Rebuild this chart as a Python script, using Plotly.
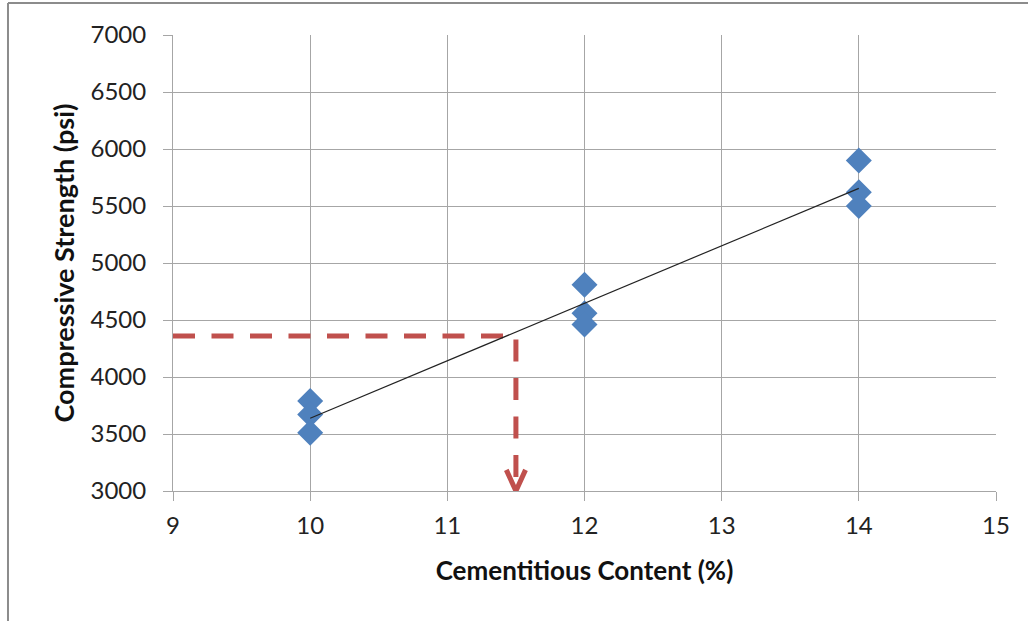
import numpy as np
import plotly.graph_objects as go

# ---- data ----
cement_content = [10, 10, 10, 12, 12, 12, 14, 14, 14]
compressive_strength = [3790, 3670, 3510, 4810, 4560, 4460, 5900, 5620, 5500]
x_ticks = [9, 10, 11, 12, 13, 14, 15]
y_ticks = [3000, 3500, 4000, 4500, 5000, 5500, 6000, 6500, 7000]
guide_x = [9, 11.5, 11.5]
guide_y = [4360, 4360, 3120]
arrow_x = [11.43, 11.5, 11.57]
arrow_y = [3185, 3000, 3185]

# linear trend from data
slope, intercept = np.polyfit(cement_content, compressive_strength, 1)
trend_x = [min(cement_content), max(cement_content)]
trend_y = [slope * v + intercept for v in trend_x]

fig = go.Figure()

fig.add_trace(go.Scatter(
    x=guide_x, y=guide_y, mode="lines",
    line=dict(color="#C0504D", width=5, dash="22px,16.5px"),
    hoverinfo="skip", showlegend=False))
fig.add_trace(go.Scatter(
    x=arrow_x, y=arrow_y, mode="lines",
    line=dict(color="#C0504D", width=5),
    hoverinfo="skip", showlegend=False))
fig.add_trace(go.Scatter(
    x=cement_content, y=compressive_strength, mode="markers",
    marker=dict(symbol="diamond", size=20, color="#4F81BD"),
    showlegend=False))
fig.add_trace(go.Scatter(
    x=trend_x, y=trend_y, mode="lines",
    line=dict(color="#222222", width=1.2),
    showlegend=False))

axis_common = dict(
    showgrid=True, gridcolor="#A6A6A6", gridwidth=1,
    showline=True, linecolor="#A6A6A6", linewidth=1,
    ticks="outside", ticklen=9, tickcolor="#A6A6A6",
    zeroline=False,
    tickfont=dict(family="Lato, Calibri, sans-serif", size=24, color="#222222"),
)

fig.update_xaxes(
    range=[9, 15], tickvals=x_ticks, ticktext=[str(v) for v in x_ticks],
    ticklabelstandoff=4,
    title=dict(text="<b>Cementitious Content (%)</b>", standoff=24,
               font=dict(family="Lato, Calibri, sans-serif", size=26, color="#111111")),
    **axis_common)
fig.update_yaxes(
    range=[3000, 7000], tickvals=y_ticks, ticktext=[str(v) for v in y_ticks],
    ticklabelstandoff=12,
    title=dict(text="<b>Compressive Strength (psi)</b>", standoff=8,
               font=dict(family="Lato, Calibri, sans-serif", size=27, color="#111111")),
    **axis_common)

# outer frame (left and top edges visible)
fig.add_shape(type="line", xref="paper", yref="paper",
              x0=-0.2005, y0=1.0702, x1=1.06, y1=1.0702,
              line=dict(color="#8C8C8C", width=2))
fig.add_shape(type="line", xref="paper", yref="paper",
              x0=-0.2005, y0=1.0702, x1=-0.2005, y1=-0.32,
              line=dict(color="#8C8C8C", width=2))

fig.update_layout(
    width=1028, height=621,
    margin=dict(l=173, r=32, t=35, b=130, autoexpand=False),
    paper_bgcolor="white", plot_bgcolor="white",
    font=dict(family="Lato, Calibri, sans-serif"),
)

fig.write_html("out.html",
               config={"displayModeBar": False},
               post_script="document.body.style.margin='0';document.body.style.overflow='hidden';")
